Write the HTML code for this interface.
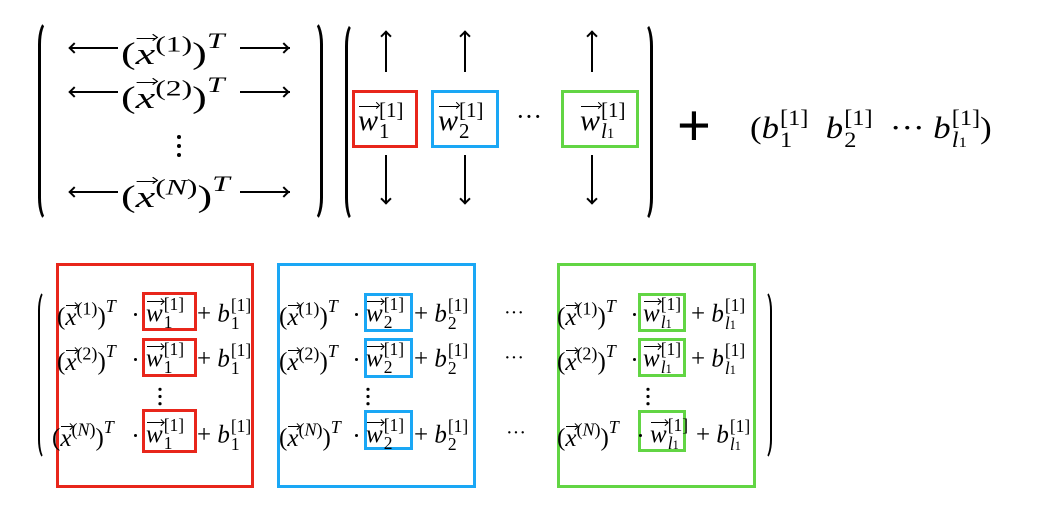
<!DOCTYPE html>
<html><head><meta charset="utf-8">
<style>
html,body{margin:0;padding:0;background:#fff}
body{width:1037px;height:510px;position:relative;overflow:hidden;font-family:"Liberation Serif","DejaVu Serif",serif;color:#000}
.a{position:absolute;white-space:nowrap;line-height:1}
.sx{transform:scaleX(1.42);transform-origin:left center}
i{font-style:italic}
.v{position:relative;display:inline-block;font-style:italic}
.v::before{content:"";position:absolute;left:1px;right:-1px;top:0.02em;border-top:1.3px solid #000}
.v::after{content:"";position:absolute;right:-1px;top:-0.08em;width:0.14em;height:0.14em;border-top:1.3px solid #000;border-right:1.3px solid #000;transform:rotate(45deg)}
.ss{display:inline-block;vertical-align:-0.4em;line-height:1;font-size:0.7em;text-align:left;font-style:normal;margin-left:1px}
.ss>span{display:block}
.l1{font-style:italic}
.l1 small{font-style:normal;font-size:0.7em}
.sup{font-size:0.72em;vertical-align:0.55em;font-style:normal}
.supi{font-size:0.72em;vertical-align:0.7em;font-style:italic}
.box{position:absolute;box-sizing:border-box}
.r{border:3px solid #e8261b}
.b{border:3px solid #1aa7f5}
.g{border:3px solid #62d544}
.paren{position:absolute;border:3px solid #000;border-radius:50%/12%}
.lp{border-right:none;border-top-right-radius:0;border-bottom-right-radius:0;border-top-color:transparent;border-bottom-color:transparent}
.rp{border-left:none;border-top-left-radius:0;border-bottom-left-radius:0;border-top-color:transparent;border-bottom-color:transparent}
.vl{position:absolute;width:2px;background:#000}
.hl{position:absolute;height:2px;background:#000}
.hd{position:absolute;width:8px;height:8px;border-top:2px solid #000;border-left:2px solid #000;box-sizing:border-box}
.dots{position:absolute;width:4px}
.dots b{display:block;width:4px;height:4px;border-radius:50%;background:#000;margin-bottom:5px}
.cd{position:absolute;width:3px;height:3px;border-radius:50%;background:#000}
</style></head><body>

<div class="paren lp" style="left:38px;top:20px;width:16px;height:196px"></div>
<div class="paren rp" style="left:304px;top:20px;width:16px;height:196px"></div>

<div class="hl" style="left:70px;top:47px;width:48px"></div><div class="hd" style="left:70px;top:44px;transform:rotate(-45deg)"></div>
<div class="hl" style="left:240px;top:47px;width:50px"></div><div class="hd" style="left:280px;top:44px;transform:rotate(135deg)"></div>
<div class="hl" style="left:70px;top:91px;width:48px"></div><div class="hd" style="left:70px;top:88px;transform:rotate(-45deg)"></div>
<div class="hl" style="left:240px;top:91px;width:50px"></div><div class="hd" style="left:280px;top:88px;transform:rotate(135deg)"></div>
<div class="hl" style="left:70px;top:191px;width:48px"></div><div class="hd" style="left:70px;top:188px;transform:rotate(-45deg)"></div>
<div class="hl" style="left:240px;top:191px;width:50px"></div><div class="hd" style="left:280px;top:188px;transform:rotate(135deg)"></div>

<div class="a sx" style="left:121px;top:30px;font-size:31px">(<span class="v">x</span><span class="sup">(1)</span>)<span class="supi">T</span></div>
<div class="a sx" style="left:121px;top:74px;font-size:31px">(<span class="v">x</span><span class="sup">(2)</span>)<span class="supi">T</span></div>
<div class="dots" style="left:177px;top:135px"><b></b><b></b><b></b></div>
<div class="a sx" style="left:121px;top:173px;font-size:31px">(<span class="v">x</span><span class="sup">(<i>N</i>)</span>)<span class="supi">T</span></div>

<div class="paren lp" style="left:345px;top:22px;width:14px;height:194px"></div>
<div class="paren rp" style="left:636px;top:22px;width:14px;height:194px"></div>

<div class="vl" style="left:385px;top:32px;height:40px"></div><div class="hd" style="left:382px;top:32px;transform:rotate(45deg)"></div>
<div class="vl" style="left:385px;top:155px;height:48px"></div><div class="hd" style="left:382px;top:195px;transform:rotate(225deg)"></div>
<div class="vl" style="left:464px;top:32px;height:40px"></div><div class="hd" style="left:461px;top:32px;transform:rotate(45deg)"></div>
<div class="vl" style="left:464px;top:155px;height:48px"></div><div class="hd" style="left:461px;top:195px;transform:rotate(225deg)"></div>
<div class="vl" style="left:591px;top:32px;height:40px"></div><div class="hd" style="left:588px;top:32px;transform:rotate(45deg)"></div>
<div class="vl" style="left:591px;top:155px;height:48px"></div><div class="hd" style="left:588px;top:195px;transform:rotate(225deg)"></div>

<div class="box r" style="left:352px;top:90px;width:66px;height:58px"></div>
<div class="box b" style="left:431px;top:90px;width:68px;height:58px"></div>
<div class="box g" style="left:561px;top:90px;width:78px;height:58px"></div>
<div class="a" style="left:358px;top:100px;font-size:30px"><span class="v">w</span><span class="ss"><span>[1]</span><span>1</span></span></div>
<div class="a" style="left:438px;top:100px;font-size:30px"><span class="v">w</span><span class="ss"><span>[1]</span><span>2</span></span></div>
<div class="a" style="left:516px;top:104px;font-size:26px">···</div>
<div class="a" style="left:580px;top:100px;font-size:30px"><span class="v">w</span><span class="ss"><span>[1]</span><span class="l1">l<small>1</small></span></span></div>

<div class="a" style="left:677px;top:97px;font-size:58px;font-family:'Liberation Sans',sans-serif">+</div>
<div class="a" style="left:750px;top:108px;font-size:31px;transform:scaleX(1.12);transform-origin:left center">(<i>b</i><span class="ss"><span>[1]</span><span>1</span></span>&nbsp; <i>b</i><span class="ss"><span>[1]</span><span>2</span></span>&nbsp; ··· <i>b</i><span class="ss"><span>[1]</span><span class="l1">l<small>1</small></span></span>)</div>

<div class="paren lp" style="left:38px;top:290px;width:13px;height:166px;border-width:2px"></div>
<div class="paren rp" style="left:757px;top:290px;width:13px;height:166px;border-width:2px"></div>

<div class="box r" style="left:56px;top:263px;width:198px;height:225px"></div>
<div class="box b" style="left:277px;top:263px;width:199px;height:225px"></div>
<div class="box g" style="left:557px;top:263px;width:199px;height:225px"></div>

<div class="box r" style="left:142px;top:292px;width:55px;height:39px"></div>
<div class="box r" style="left:142px;top:338px;width:55px;height:39px"></div>
<div class="box r" style="left:142px;top:409px;width:55px;height:44px"></div>
<div class="box b" style="left:364px;top:293px;width:49px;height:39px"></div>
<div class="box b" style="left:364px;top:338px;width:49px;height:40px"></div>
<div class="box b" style="left:364px;top:410px;width:49px;height:40px"></div>
<div class="box g" style="left:638px;top:293px;width:48px;height:39px"></div>
<div class="box g" style="left:638px;top:338px;width:48px;height:39px"></div>
<div class="box g" style="left:638px;top:410px;width:48px;height:42px"></div>

<div class="cd" style="left:134px;top:313px"></div>
<div class="cd" style="left:134px;top:358px"></div>
<div class="cd" style="left:134px;top:434px"></div>
<div class="cd" style="left:355px;top:313px"></div>
<div class="cd" style="left:355px;top:358px"></div>
<div class="cd" style="left:355px;top:434px"></div>
<div class="cd" style="left:633px;top:313px"></div>
<div class="cd" style="left:633px;top:358px"></div>
<div class="cd" style="left:639px;top:434px"></div>

<div class="a" style="left:57px;top:297px;font-size:25px">(<span class="v">x</span><span class="sup">(1)</span>)<span class="supi">T</span></div>
<div class="a" style="left:146px;top:296px;font-size:25px"><span class="v">w</span><span class="ss"><span>[1]</span><span>1</span></span></div>
<div class="a" style="left:197px;top:297px;font-size:25px">+ <i>b</i><span class="ss"><span>[1]</span><span>1</span></span></div>
<div class="a" style="left:57px;top:342px;font-size:25px">(<span class="v">x</span><span class="sup">(2)</span>)<span class="supi">T</span></div>
<div class="a" style="left:146px;top:341px;font-size:25px"><span class="v">w</span><span class="ss"><span>[1]</span><span>1</span></span></div>
<div class="a" style="left:197px;top:342px;font-size:25px">+ <i>b</i><span class="ss"><span>[1]</span><span>1</span></span></div>
<div class="dots" style="left:158px;top:385px;transform:scale(0.8)"><b></b><b></b><b></b></div>
<div class="a" style="left:52px;top:418px;font-size:25px">(<span class="v">x</span><span class="sup">(<i>N</i>)</span>)<span class="supi">T</span></div>
<div class="a" style="left:146px;top:417px;font-size:25px"><span class="v">w</span><span class="ss"><span>[1]</span><span>1</span></span></div>
<div class="a" style="left:197px;top:418px;font-size:25px">+ <i>b</i><span class="ss"><span>[1]</span><span>1</span></span></div>

<div class="a" style="left:279px;top:297px;font-size:25px">(<span class="v">x</span><span class="sup">(1)</span>)<span class="supi">T</span></div>
<div class="a" style="left:366px;top:296px;font-size:25px"><span class="v">w</span><span class="ss"><span>[1]</span><span>2</span></span></div>
<div class="a" style="left:414px;top:297px;font-size:25px">+ <i>b</i><span class="ss"><span>[1]</span><span>2</span></span></div>
<div class="a" style="left:279px;top:342px;font-size:25px">(<span class="v">x</span><span class="sup">(2)</span>)<span class="supi">T</span></div>
<div class="a" style="left:366px;top:341px;font-size:25px"><span class="v">w</span><span class="ss"><span>[1]</span><span>2</span></span></div>
<div class="a" style="left:414px;top:342px;font-size:25px">+ <i>b</i><span class="ss"><span>[1]</span><span>2</span></span></div>
<div class="dots" style="left:366px;top:385px;transform:scale(0.8)"><b></b><b></b><b></b></div>
<div class="a" style="left:279px;top:418px;font-size:25px">(<span class="v">x</span><span class="sup">(<i>N</i>)</span>)<span class="supi">T</span></div>
<div class="a" style="left:366px;top:417px;font-size:25px"><span class="v">w</span><span class="ss"><span>[1]</span><span>2</span></span></div>
<div class="a" style="left:414px;top:418px;font-size:25px">+ <i>b</i><span class="ss"><span>[1]</span><span>2</span></span></div>

<div class="a" style="left:504px;top:303px;font-size:20px">···</div>
<div class="a" style="left:504px;top:348px;font-size:20px">···</div>
<div class="a" style="left:506px;top:423px;font-size:20px">···</div>

<div class="a" style="left:557px;top:297px;font-size:25px">(<span class="v">x</span><span class="sup">(1)</span>)<span class="supi">T</span></div>
<div class="a" style="left:643px;top:296px;font-size:25px"><span class="v">w</span><span class="ss"><span>[1]</span><span class="l1">l<small>1</small></span></span></div>
<div class="a" style="left:691px;top:297px;font-size:25px">+ <i>b</i><span class="ss"><span>[1]</span><span class="l1">l<small>1</small></span></span></div>
<div class="a" style="left:557px;top:342px;font-size:25px">(<span class="v">x</span><span class="sup">(2)</span>)<span class="supi">T</span></div>
<div class="a" style="left:643px;top:341px;font-size:25px"><span class="v">w</span><span class="ss"><span>[1]</span><span class="l1">l<small>1</small></span></span></div>
<div class="a" style="left:691px;top:342px;font-size:25px">+ <i>b</i><span class="ss"><span>[1]</span><span class="l1">l<small>1</small></span></span></div>
<div class="dots" style="left:646px;top:385px;transform:scale(0.8)"><b></b><b></b><b></b></div>
<div class="a" style="left:557px;top:418px;font-size:25px">(<span class="v">x</span><span class="sup">(<i>N</i>)</span>)<span class="supi">T</span></div>
<div class="a" style="left:650px;top:417px;font-size:25px"><span class="v">w</span><span class="ss"><span>[1]</span><span class="l1">l<small>1</small></span></span></div>
<div class="a" style="left:696px;top:418px;font-size:25px">+ <i>b</i><span class="ss"><span>[1]</span><span class="l1">l<small>1</small></span></span></div>

</body></html>
